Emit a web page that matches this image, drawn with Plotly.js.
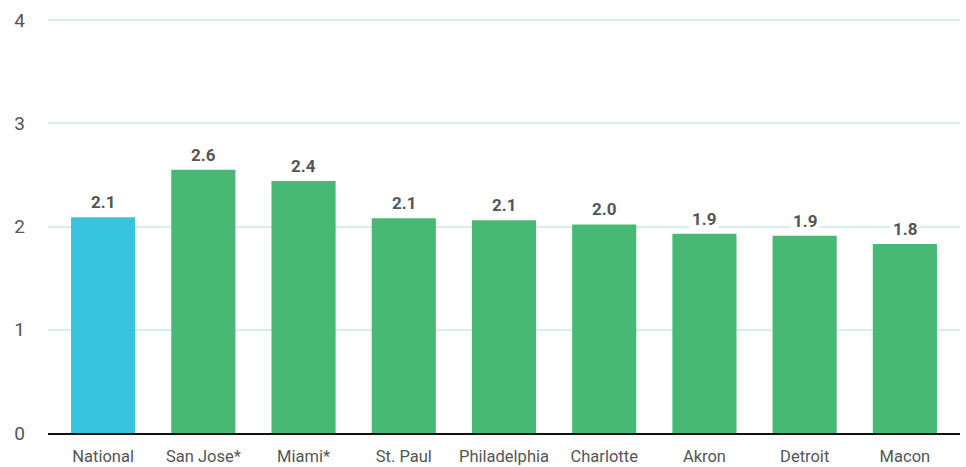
<!DOCTYPE html>
<html><head><meta charset="utf-8">
<script src="https://cdn.plot.ly/plotly-3.0.1.min.js"></script>
<style>html,body{margin:0;padding:0;background:#fff}#chart{width:966px;height:467px}</style>
</head><body><div id="chart"></div>
<script>
const categories = ["National","San Jose*","Miami*","St. Paul","Philadelphia","Charlotte","Akron","Detroit","Macon"];
const values = [2.09, 2.55, 2.44, 2.08, 2.06, 2.02, 1.93, 1.91, 1.83];
const labels = ["2.1","2.6","2.4","2.1","2.1","2.0","1.9","1.9","1.8"];
const colors = categories.map((c,i)=> i===0 ? "#37c4de" : "#48b975");

const trace = {type:"bar", x:categories, y:values, marker:{color:colors}, width:0.64, hoverinfo:"none"};
const annotations = categories.map((c,i)=>({
  x:c, y:values[i], text:"<b>"+labels[i]+"</b>", showarrow:false, yanchor:"bottom", yshift:2,
  font:{family:"Roboto, sans-serif", size:17, color:"#555"}, bgcolor:"#fff", borderpad:2
}));
const layout = {
  width:966, height:467, margin:{l:48,r:6,t:18,b:34},
  paper_bgcolor:"#fff", plot_bgcolor:"#fff", showlegend:false,
  font:{family:"Roboto, sans-serif", color:"#555"},
  xaxis:{range:[-0.55,8.55], showline:true, linecolor:"#111", linewidth:2, ticks:"", showgrid:false,
         tickfont:{size:16.5, color:"#555"}, ticklabelstandoff:7},
  yaxis:{range:[0,4.02], tickvals:[0,1,2,3,4], showgrid:true, gridcolor:"#d5eef5", gridwidth:2, zeroline:false,
         tickfont:{size:19, color:"#555"}, ticklabelstandoff:22, ticks:""},
  annotations:annotations
};
Plotly.newPlot("chart",[trace],layout,{displayModeBar:false,staticPlot:true});
</script></body></html>
